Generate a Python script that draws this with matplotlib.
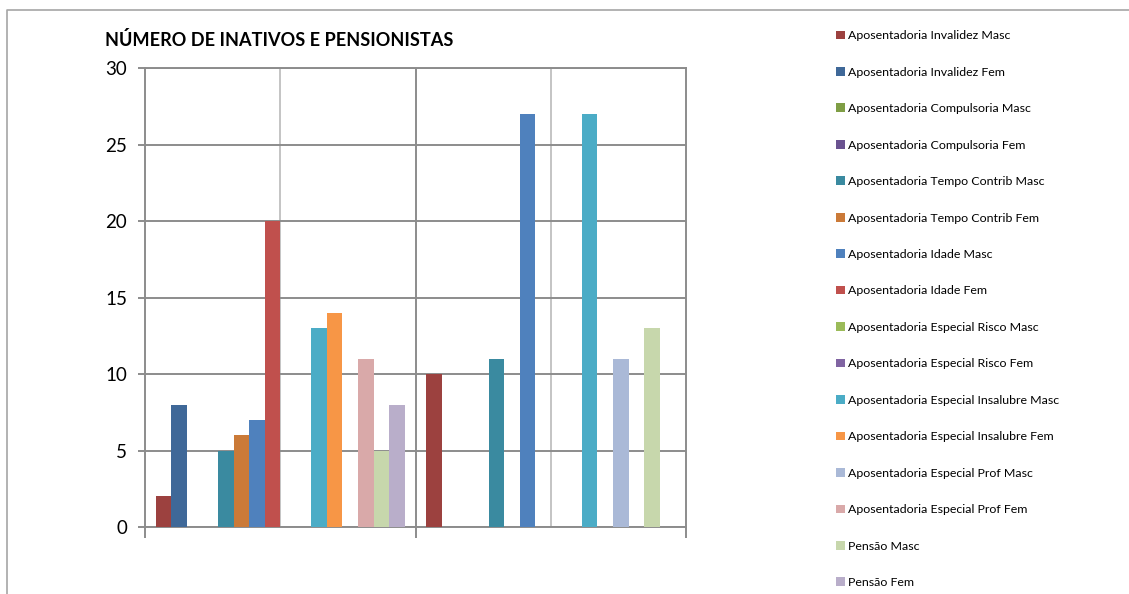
import numpy as np
import matplotlib.pyplot as plt
from matplotlib.lines import Line2D

plt.rcParams['font.family'] = ['Lato', 'DejaVu Sans']

categories = ['1', '2']
series = ['Aposentadoria Invalidez Masc', 'Aposentadoria Invalidez Fem',
          'Aposentadoria Compulsoria Masc', 'Aposentadoria Compulsoria Fem',
          'Aposentadoria Tempo Contrib Masc', 'Aposentadoria Tempo Contrib Fem',
          'Aposentadoria Idade Masc', 'Aposentadoria Idade Fem',
          'Aposentadoria Especial Risco Masc', 'Aposentadoria Especial Risco Fem',
          'Aposentadoria Especial Insalubre Masc', 'Aposentadoria Especial Insalubre Fem',
          'Aposentadoria Especial Prof Masc', 'Aposentadoria Especial Prof Fem',
          'Pensão Masc', 'Pensão Fem']
cat1 = [2, 8, 0, 0, 5, 6, 7, 20, 0, 0, 13, 14, 0, 11, 5, 8]
cat2 = [10, 0, 0, 0, 11, 0, 27, 0, 0, 0, 27, 0, 11, 0, 13, 0]
colors = ['#9C413F', '#3F6898', '#7F9E45', '#6A5290', '#3A8AA0', '#CB7A38',
          '#4F81BD', '#C0504D', '#9BBB59', '#8064A2', '#4BACC6', '#F79646',
          '#AAB9D7', '#D9A9A9', '#C7D7AC', '#B9AECA']

fig = plt.figure(figsize=(11.29, 5.94), dpi=100)
ax = fig.add_axes([145/1129, 1-527/594, 541/1129, 459/594])

n = len(series)
w = 0.92 / n
vals = np.array([cat1, cat2])
for i in range(n):
    x = np.arange(len(categories)) + 0.04 + w*i
    ax.bar(x, vals[:, i], width=w, align='edge', color=colors[i],
           label=series[i], zorder=3)

ax.set_xlim(0, 2)
ax.set_ylim(0, 30)
ax.set_yticks(range(0, 31, 5))
ax.set_xticks([0, 1, 2])
ax.set_xticklabels([])
ax.yaxis.grid(True, color='#8c8c8c', lw=1.4, zorder=1)
ax.axvline(1, color='#8c8c8c', lw=1.4, zorder=1)
for xv in [0.5, 1.5]:
    ax.axvline(xv, color='#c4c4c4', lw=1.4, zorder=1)
for s in ax.spines.values():
    s.set_color('#8c8c8c')
    s.set_linewidth(1.4)
ax.tick_params(axis='y', length=5, width=1.4, color='#8c8c8c', labelsize=13.5, pad=8)
ax.tick_params(axis='x', length=8, width=1.4, color='#8c8c8c')

fig.text(105/1129, 1-40/594, 'NÚMERO DE INATIVOS E PENSIONISTAS',
         fontsize=13.1, fontweight='bold', va='center', ha='left')

leg = fig.legend(loc='upper left', bbox_to_anchor=(830/1129, 1-24/594),
                 frameon=False, fontsize=8.9, handlelength=0.7, handleheight=0.7,
                 handletextpad=0.25, labelspacing=2.06, borderpad=0)

# chart area border
fig.add_artist(Line2D([7/1129, 7/1129, 1], [0, 1-10/594, 1-10/594],
                      transform=fig.transFigure, color='#a6a6a6', lw=1.2))

fig.savefig('out.png', dpi=100)
